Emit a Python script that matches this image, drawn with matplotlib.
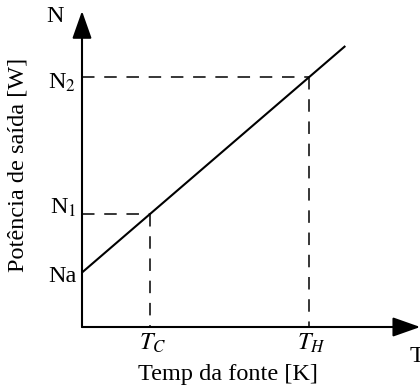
import matplotlib
matplotlib.use("Agg")
import matplotlib.pyplot as plt

# values (arbitrary units)
temps = [0.0, 11.6]
powers = [2.4, 12.38]
T_C = 3.0
T_H = 10.0
Na = 2.4
N1 = 5.0
N2 = 11.0
tick_labels_y = ["Na", "N$_1$", "N$_2$"]
tick_labels_x = ["$T_C$", "$T_H$"]

plt.rcParams["font.family"] = ["Liberation Serif", "DejaVu Serif"]
plt.rcParams["mathtext.fontset"] = "stix"
plt.rcParams["lines.scale_dashes"] = False

fig = plt.figure(figsize=(4.2, 3.92), dpi=100)
ax = fig.add_axes([82 / 420, 65 / 392, 338 / 420, 327 / 392])
ax.set_xlim(0, 338 / 22.7)
ax.set_ylim(0, 327 / 22.7)
ax.axis("off")

fs = 17.5
dash = (0, (9, 7))

# main line
ax.plot(temps, powers, color="k", lw=1.5, solid_capstyle="butt", clip_on=False)

# dashed guides
ax.plot([0, T_C], [N1, N1], color="k", lw=1.1, linestyle=dash)
ax.plot([T_C, T_C], [N1, 0], color="k", lw=1.1, linestyle=dash)
ax.plot([0, T_H], [N2, N2], color="k", lw=1.1, linestyle=dash)
ax.plot([T_H, T_H], [N2, 0], color="k", lw=1.1, linestyle=dash)

# axes with arrows
arrow = dict(arrowstyle="-|>,head_length=1.7,head_width=0.6", mutation_scale=10,
             lw=1.5, color="k", shrinkA=0, shrinkB=0)
ax.annotate("", xy=(0, 13.92), xytext=(0, 0), arrowprops=arrow, annotation_clip=False)
ax.annotate("", xy=(14.9, 0), xytext=(0, 0), arrowprops=arrow, annotation_clip=False)

# labels
off = 0.25
ax.text(-off, Na - 0.4, tick_labels_y[0], ha="right", va="baseline", fontsize=fs)
ax.text(-off, N1, tick_labels_y[1], ha="right", va="baseline", fontsize=fs)
ax.text(-off, N2 - 0.5, tick_labels_y[2], ha="right", va="baseline", fontsize=fs)
ax.text(T_C + 0.1, -1.01, tick_labels_x[0], ha="center", va="baseline", fontsize=fs)
ax.text(T_H + 0.1, -1.01, tick_labels_x[1], ha="center", va="baseline", fontsize=fs)

ax.text(-1.19, 13.44, "N", ha="center", va="baseline", fontsize=fs)
ax.text(14.45, -1.54, "T", ha="left", va="baseline", fontsize=fs)
ax.text(6.43, -2.33, "Temp da fonte [K]", ha="center", va="baseline", fontsize=fs)
ax.text(-2.82, 7.14, "Potência de saída [W]", ha="center", va="center",
        rotation=90, fontsize=fs)

fig.savefig("out.png", dpi=100)
